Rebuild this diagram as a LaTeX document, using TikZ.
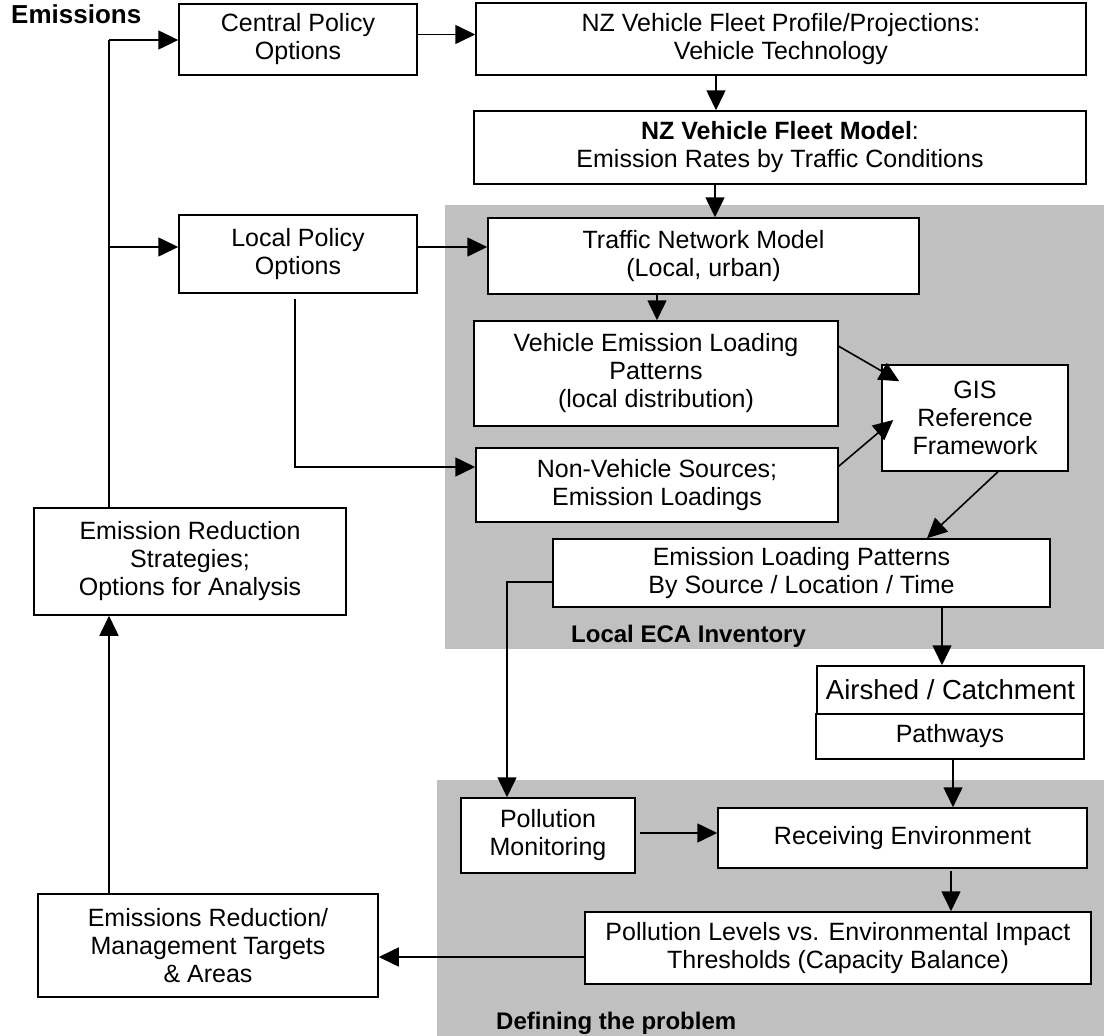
\documentclass[tikz,border=0pt]{standalone}
\usepackage{fontspec}
\setmainfont{Liberation Sans}
\usetikzlibrary{arrows.meta}
\definecolor{panelgrey}{RGB}{192,192,192}
\tikzset{
  box/.style={draw=black, fill=white, line width=1.5pt, align=center, inner sep=0pt,
              font=\fontsize{25}{28}\selectfont},
  arr/.style={line width=1.6pt, -{Triangle[length=20pt,width=19pt]}},
  plain/.style={line width=1.5pt},
  lbl/.style={font=\bfseries\fontsize{24}{28}\selectfont, inner sep=0pt}
}
\begin{document}
\begin{tikzpicture}[x=1pt,y=-1pt]
\useasboundingbox (0,0) rectangle (1104,1036);
% grey panels
\fill[panelgrey] (445,205) rectangle (1104,649);
\fill[panelgrey] (437,780) rectangle (1104,1036);

% labels
\node[lbl, font=\bfseries\fontsize{26}{30}\selectfont, anchor=base west] (emis) at (11,23.5) {Emissions};
\node[lbl, anchor=base west] (eca) at (571,642) {Local ECA Inventory};
\node[lbl, anchor=base west] (defp) at (496,1029) {Defining the problem};

% boxes
\node[box, minimum width=238pt, minimum height=71pt] (central) at (298,39.5) {Central Policy\\Options};
\node[box, minimum width=610pt, minimum height=72pt] (profile) at (781,39) {NZ Vehicle Fleet Profile/Projections:\\Vehicle Technology};
\node[box, minimum width=612pt, minimum height=73pt] (model) at (780,147.5) {\textbf{NZ Vehicle Fleet Model}:\\Emission Rates by Traffic Conditions};
\node[box, minimum width=238pt, minimum height=78pt] (local) at (298,254) {Local Policy\\Options};
\node[box, minimum width=431pt, minimum height=76pt] (traffic) at (703.5,256) {Traffic Network Model\\(Local, urban)};
\node[box, minimum width=364pt, minimum height=105pt] (ve) at (656,373.5) {Vehicle Emission Loading\\Patterns\\(local distribution)};
\node[box, minimum width=362pt, minimum height=74pt] (nv) at (657,485) {Non-Vehicle Sources;\\Emission Loadings};
\node[box, minimum width=186pt, minimum height=106pt] (gis) at (975,418) {GIS\\Reference\\Framework};
\node[box, minimum width=497pt, minimum height=68pt] (elp) at (801.5,573) {Emission Loading Patterns\\By Source / Location / Time};
\node[box, minimum width=267pt, minimum height=48pt, font=\fontsize{27.5}{30}\selectfont] (airshed) at (950.5,690) {Airshed / Catchment};
\node[box, minimum width=268pt, minimum height=45pt] (pathways) at (950,736.5) {Pathways};
\node[box, minimum width=174pt, minimum height=75pt] (pm) at (548,835.5) {Pollution\\Monitoring};
\node[box, minimum width=369pt, minimum height=60pt] (re) at (902.5,838) {Receiving Environment};
\node[box, minimum width=506pt, minimum height=72pt] (pl) at (838,948) {Pollution Levels vs. Environmental Impact\\Thresholds (Capacity Balance)};
\node[box, minimum width=340pt, minimum height=103pt] (ermt) at (208,945.5) {Emissions Reduction/\\Management Targets\\\& Areas};
\node[box, minimum width=312pt, minimum height=107pt] (ers) at (190,561.5) {Emission Reduction\\Strategies;\\Options for Analysis};

% left feedback loop
\coordinate (L1) at (109,40);
\coordinate (L2) at (109,247);
\draw[plain] (ers.north -| L1) -- (L1);
\draw[arr] (L1) -- (L1 -| central.west);
\draw[arr] (L2) -- (L2 -| local.west);
\draw[arr] (ermt.north -| L1) -- (ers.south -| L1);

% top row
\draw[arr] ([yshift=5pt]central.east) -- ([yshift=5pt]central.east -| profile.west);
\draw[arr] ([xshift=-65pt]profile.south) -- ([xshift=-65pt]profile.south |- model.north);
\draw[arr] ([xshift=-65pt]model.south) -- ([xshift=-65pt]model.south |- traffic.north);
\draw[arr] ([yshift=7pt]local.east) -- ([yshift=7pt]local.east -| traffic.west);
\draw[arr] ([xshift=-46.5pt]traffic.south) -- ([xshift=-46.5pt]traffic.south |- ve.north);
\draw[arr] ([xshift=-3pt,yshift=-5pt]local.south) |- ([yshift=18pt]nv.west);

% into / out of GIS
\draw[arr] ([yshift=-26pt]ve.north east) -- ([xshift=18pt,yshift=-17pt]gis.north west);
\draw[arr] ([yshift=-19pt]nv.north east) -- ([xshift=12pt,yshift=-2pt]gis.west);
\draw[arr] ([xshift=23pt]gis.south) -- ([xshift=125.5pt]elp.north);

% lower part
\draw[arr] ([yshift=-9pt]elp.west) -| ([xshift=-41pt]pm.north);
\draw[arr] ([xshift=140.5pt]elp.south) -- ([xshift=140.5pt]elp.south |- airshed.north);
\draw[arr] ([xshift=3pt]pathways.south) -- ([xshift=3pt]pathways.south |- re.north);
\draw[arr] ([xshift=4pt,yshift=2.5pt]pm.east) -- ([yshift=2.5pt]pm.east -| re.west);
\draw[arr] ([xshift=48.5pt,yshift=-2pt]re.south) -- ([xshift=48.5pt]re.south |- pl.north);
\draw[arr] ([yshift=-9pt]pl.west) -- ([yshift=-9pt]pl.west -| ermt.east);
\end{tikzpicture}
\end{document}
